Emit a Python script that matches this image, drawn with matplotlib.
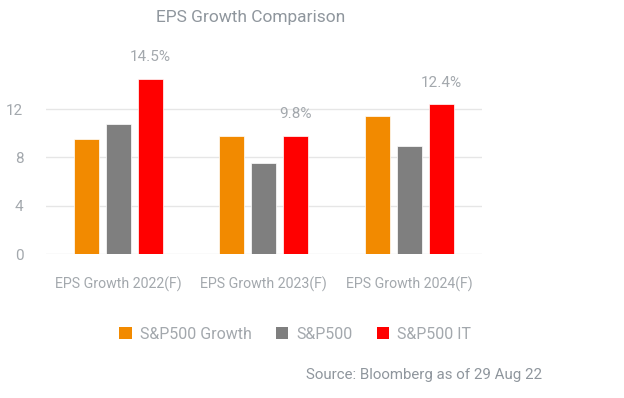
import numpy as np
import matplotlib
matplotlib.use("Agg")
from matplotlib import pyplot as plt
from matplotlib.patches import Patch

categories = ["EPS Growth 2022(F)", "EPS Growth 2023(F)", "EPS Growth 2024(F)"]
sp500_growth = [9.5, 9.8, 11.4]
sp500 = [10.8, 7.5, 8.9]
sp500_it = [14.5, 9.8, 12.4]
series_names = ["S&P500 Growth", "S&P500", "S&P500 IT"]
yticks = [0, 4, 8, 12]

colors = ["#f28a00", "#7f7f7f", "#ff0000"]
text_col = "#a3a8ad"

plt.rcParams['font.family'] = ['Roboto', 'DejaVu Sans']

fig = plt.figure(figsize=(6.24, 3.98), dpi=100)
ax = fig.add_axes([0.073, 0.3618, 0.6995, 0.4857])

x = np.arange(len(categories))
w = 0.174
off = 0.22
for i, vals in enumerate([sp500_growth, sp500, sp500_it]):
    ax.bar(x + (i - 1) * off, vals, w, color=colors[i], edgecolor="white", linewidth=0.5, zorder=3)

# labels only on IT bars
for xi, v in zip(x, sp500_it):
    ax.text(xi + off, v + 1.2, "{:.1f}%".format(v), ha="center", va="bottom",
            fontsize=11, color=text_col, clip_on=False)

ax.set_xlim(-0.5, 2.5)
ax.set_ylim(0, 16)
ax.set_yticks(yticks)
ax.set_xticks(x)
ax.set_xticklabels(categories)
ax.tick_params(axis="both", length=0, labelsize=11, colors=text_col)
ax.tick_params(axis="x", labelsize=10.2, pad=16)
ax.tick_params(axis="y", pad=16)
ax.grid(axis="y", color="#e6e6e6", linewidth=1, zorder=0)
for s in ax.spines.values():
    s.set_visible(False)

fig.text(0.402, 0.955, "EPS Growth Comparison", ha="center", va="center",
         fontsize=12.5, color="#8f969d")

handles = [Patch(facecolor=c, label=n) for c, n in zip(colors, series_names)]
fig.legend(handles=handles, loc="center", bbox_to_anchor=(0.473, 0.16), ncol=3,
           frameon=False, fontsize=11.5, labelcolor=text_col, handlelength=0.8,
           handleheight=0.8, handletextpad=0.5, columnspacing=1.5)

fig.text(0.868, 0.058, "Source: Bloomberg as of 29 Aug 22", ha="right", va="center",
         fontsize=10.8, color="#8f969d")

fig.savefig("out.png", dpi=100)
